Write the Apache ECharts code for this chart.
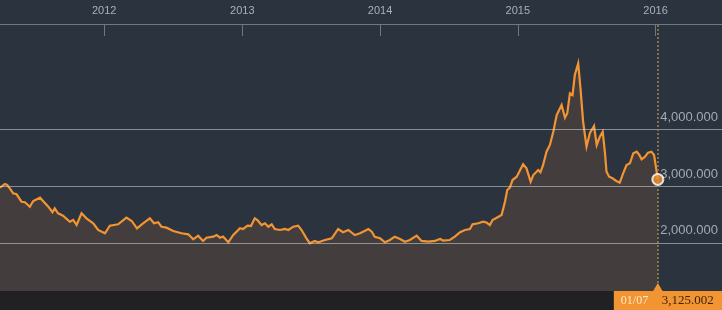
<!DOCTYPE html>
<html><head><meta charset="utf-8">
<script src="https://cdn.jsdelivr.net/npm/echarts@6/dist/echarts.min.js"></script>
<style>html,body{margin:0;padding:0;background:#2b333e;}#c{width:722px;height:310px;}</style>
</head><body><div id="c"></div>
<script>
const dates = [
'2011-03-31','2011-04-13','2011-04-19','2011-04-26','2011-05-05','2011-05-14','2011-05-27','2011-06-05','2011-06-18','2011-06-27',
'2011-07-15','2011-07-23','2011-08-06','2011-08-17','2011-08-23','2011-09-01','2011-09-14','2011-10-02','2011-10-11','2011-10-20',
'2011-11-02','2011-11-15','2011-12-03','2011-12-16','2012-01-03','2012-01-16','2012-02-07','2012-02-29','2012-03-14','2012-03-28',
'2012-04-13','2012-05-01','2012-05-12','2012-05-23','2012-06-01','2012-06-14','2012-07-02','2012-07-24','2012-08-11','2012-08-24',
'2012-09-06','2012-09-19','2012-09-28','2012-10-16','2012-10-25','2012-11-03','2012-11-11','2012-11-25','2012-12-08','2012-12-26',
'2013-01-03','2013-01-15','2013-01-24','2013-02-03','2013-02-10','2013-02-21','2013-03-02','2013-03-11','2013-03-20','2013-03-28',
'2013-04-11','2013-04-24','2013-05-03','2013-05-16','2013-05-29','2013-06-07','2013-06-20','2013-06-29','2013-07-12','2013-07-21',
'2013-08-08','2013-08-26','2013-09-12','2013-09-25','2013-10-09','2013-10-26','2013-11-09','2013-12-01','2013-12-10','2013-12-18',
'2014-01-01','2014-01-14','2014-01-27','2014-02-09','2014-02-23','2014-03-08','2014-03-21','2014-04-08','2014-04-21','2014-05-09',
'2014-05-26','2014-06-09','2014-06-17','2014-07-05','2014-07-18','2014-08-01','2014-08-14','2014-08-27','2014-09-03','2014-09-18',
'2014-10-01','2014-10-10','2014-10-19','2014-10-26','2014-11-06','2014-11-19','2014-11-28','2014-12-04','2014-12-11','2014-12-18',
'2014-12-29','2015-01-15','2015-01-24','2015-02-04','2015-02-11','2015-02-24','2015-03-02','2015-03-09','2015-03-18','2015-03-27',
'2015-04-05','2015-04-14','2015-04-27','2015-05-06','2015-05-12','2015-05-19','2015-05-26','2015-06-01','2015-06-10','2015-06-16',
'2015-06-23','2015-07-02','2015-07-11','2015-07-22','2015-07-29','2015-08-06','2015-08-14','2015-08-20','2015-08-24','2015-08-31',
'2015-09-09','2015-09-18','2015-09-28','2015-10-07','2015-10-16','2015-10-25','2015-11-03','2015-11-12','2015-11-19','2015-11-25',
'2015-12-04','2015-12-12','2015-12-21','2015-12-28','2016-01-07'
];
const values = [
2979,3044,3026,2968,2880,2863,2732,2722,2644,2745,
2803,2745,2644,2546,2616,2528,2486,2380,2410,2322,
2528,2440,2352,2234,2176,2310,2334,2451,2393,2264,
2352,2440,2352,2370,2292,2275,2217,2176,2158,2070,
2134,2041,2099,2116,2146,2099,2120,2018,2146,2264,
2252,2310,2305,2440,2410,2322,2352,2292,2334,2252,
2234,2252,2234,2292,2310,2234,2088,2000,2041,2018,
2058,2088,2252,2194,2234,2146,2176,2252,2204,2116,
2088,2018,2058,2116,2076,2028,2058,2134,2041,2028,
2041,2076,2049,2058,2116,2194,2234,2252,2334,2352,
2380,2366,2322,2410,2451,2498,2732,2938,2982,3114,
3173,3391,3320,3085,3202,3291,3250,3379,3613,3731,
3965,4259,4435,4211,4289,4641,4611,4963,5169,4729,
4141,3701,3942,4065,3731,3871,3965,3585,3261,3173,
3144,3102,3067,3232,3379,3408,3585,3613,3555,3479,
3525,3595,3613,3555,3125.002
];
const yearLabels = ['2012','2013','2014','2015','2016'];
const gridValues = [2000, 3000, 4000];
const xRange = ['2011-03-31', '2016-06-25'];
const yRange = [1160, 5861];

const fmt = v => v.toLocaleString('en-US', {minimumFractionDigits: 3, maximumFractionDigits: 3});
const lastDate = dates[dates.length - 1];
const lastValue = values[values.length - 1];
const ORANGE = '#f39433';

const chart = echarts.init(document.getElementById('c'), null, {renderer: 'canvas'});
chart.setOption({
  backgroundColor: '#2b333e',
  animation: false,
  grid: {left: 0, right: 0, top: 24, bottom: 19},
  xAxis: {
    type: 'time', position: 'top', min: xRange[0], max: xRange[1],
    minInterval: 365 * 86400000,
    axisLine: {show: true, lineStyle: {color: '#6f777f', width: 1}},
    axisTick: {show: true, inside: true, length: 12, lineStyle: {color: '#6f777f'}},
    axisLabel: {
      color: '#aab0b8', fontSize: 11, fontFamily: 'Liberation Sans', margin: 8,
      formatter: (val) => { const d = new Date(val); const y = String(d.getFullYear()); return yearLabels.includes(y) && d.getMonth() === 0 && d.getDate() === 1 ? y : ''; }
    },
    splitLine: {show: false}
  },
  yAxis: {
    type: 'value', min: yRange[0], max: yRange[1], show: false, splitLine: {show: false}
  },
  series: [{
    type: 'line',
    data: dates.map((d, i) => [d, values[i]]),
    showSymbol: false,
    lineStyle: {color: ORANGE, width: 2.2, join: 'miter'},
    itemStyle: {color: ORANGE},
    areaStyle: {color: 'rgba(240,144,58,0.18)'},
    markLine: {
      silent: true, symbol: ['none', 'none'], animation: false,
      data: gridValues.map(v => ({
        yAxis: v,
        lineStyle: {color: 'rgba(210,215,220,0.55)', width: 1, type: 'solid'},
        label: {show: true, position: 'insideEndTop', formatter: fmt(v), color: '#a3aab2',
                fontSize: 13, fontFamily: 'Liberation Sans', distance: [4, 6]}
      })).concat([{
        xAxis: lastDate,
        lineStyle: {color: '#9a8650', width: 1.5, type: [2, 2]},
        label: {show: false}
      }])
    }
  }, {
    type: 'scatter',
    data: [[lastDate, lastValue]],
    symbol: 'circle', symbolSize: 11,
    itemStyle: {color: ORANGE, borderColor: '#ffffff', borderWidth: 2},
    z: 5
  }]
});

const p = chart.convertToPixel({seriesIndex: 0}, [lastDate, lastValue]);
const px = p[0];
const parts = lastDate.split('-');
const dateText = parts[1] + '/' + parts[2];
chart.setOption({
  graphic: [
    {type: 'rect', shape: {x: 0, y: 291, width: 722, height: 19}, style: {fill: '#212124'}, z: 10},
    {type: 'rect', shape: {x: px - 44, y: 291, width: 130, height: 19}, style: {fill: ORANGE}, z: 11},
    {type: 'polygon', shape: {points: [[px, 283], [px - 5, 291.5], [px + 5, 291.5]]}, style: {fill: ORANGE}, z: 11},
    {type: 'text', x: px - 37, y: 301, style: {text: dateText, fill: '#fde8cc', font: '12px "Liberation Serif"', verticalAlign: 'middle'}, z: 12},
    {type: 'text', x: px + 4, y: 301, style: {text: fmt(lastValue), fill: '#3a2410', font: '13px "Liberation Serif"', verticalAlign: 'middle'}, z: 12}
  ]
});
</script>
</body></html>
